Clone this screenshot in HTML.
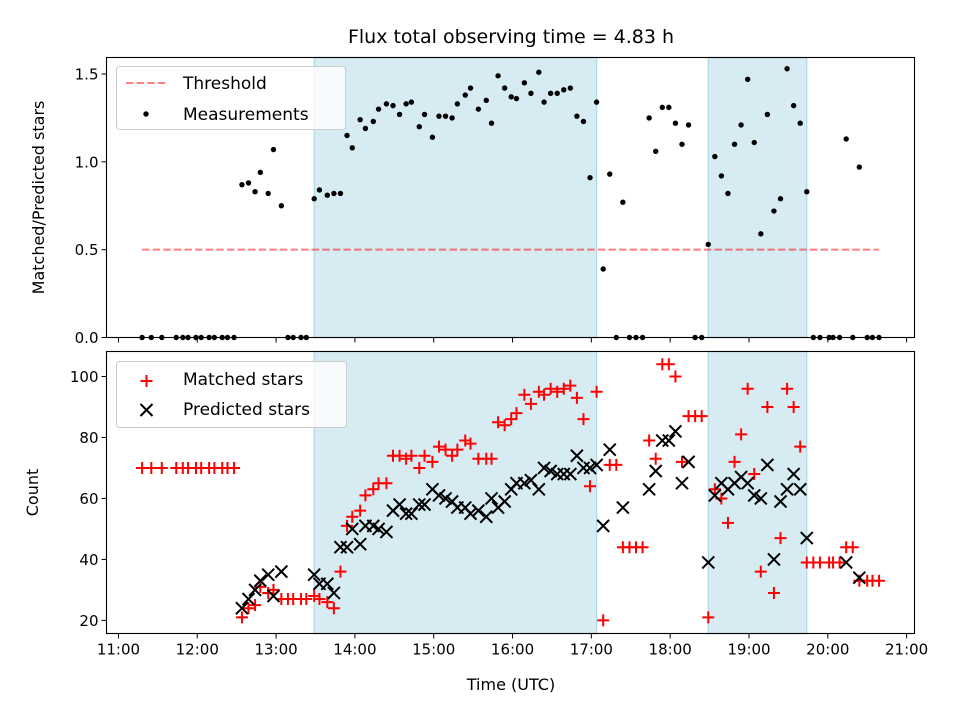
<!DOCTYPE html>
<html><head><meta charset="utf-8"><style>
html,body{margin:0;padding:0;background:#fff;}
svg{display:block;font-family:"DejaVu Sans","Liberation Sans",sans-serif;}
</style></head><body>
<svg id="chart" width="960" height="720" viewBox="0 0 960 720"></svg>
<script>
// minutes after 11:00 UTC
const times=[18,25,33,44,49,53,59,63,69,73,79,83,88,94,99,104,108,114,118,124,129,133,139,143,149,153,159,164,169,174,178,184,188,194,198,204,209,214,219,223,229,233,239,244,249,254,258,264,268,274,280,284,289,294,299,303,309,314,320,324,329,334,339,344,349,354,359,364,369,374,379,384,389,394,399,404,409,414,419,424,429,434,439,444,449,454,459,464,469,474,479,484,489,494,499,504,509,514,519,524,529,534,541,544,549,554,559,564,570,574,579];
const ratio=[0,0,0,0,0,0,0,0,0,0,0,0,0,.87,.88,.83,.94,.82,1.07,.75,0,0,0,0,.79,.84,.81,.82,.82,1.15,1.08,1.24,1.19,1.23,1.30,1.33,1.32,1.27,1.33,1.34,1.20,1.27,1.14,1.26,1.26,1.25,1.33,1.38,1.42,1.30,1.35,1.22,1.49,1.42,1.37,1.36,1.45,1.39,1.51,1.34,1.39,1.39,1.41,1.42,1.26,1.23,.91,1.34,.39,.93,0,.77,0,0,0,1.25,1.06,1.31,1.31,1.22,1.10,1.21,0,0,.53,1.03,.92,.82,1.10,1.21,1.47,1.11,.59,1.27,.72,.79,1.53,1.32,1.22,.83,0,0,0,0,0,1.13,0,.97,0,0,0];
const matched=[70,70,70,70,70,70,70,70,70,70,70,70,70,21,24,25,31,29,30,27,27,27,27,27,28,27,26,24,36,51,54,56,61,63,65,65,74,74,73,74,70,74,72,77,76,74,76,79,78,73,73,73,85,84,86,88,94,91,95,94,96,95,96,97,93,86,64,95,20,71,71,44,44,44,44,79,73,104,104,100,72,87,87,87,21,63,60,52,72,81,96,68,36,90,29,47,96,90,77,39,39,39,39,39,39,44,44,33,33,33,33];
const predicted=[null,null,null,null,null,null,null,null,null,null,null,null,null,24,27,30,33,35,28,36,null,null,null,null,35,32,32,29,44,44,50,45,51,51,50,49,56,58,55,55,58,58,63,61,60,59,57,57,55,56,54,60,57,59,63,65,65,66,63,70,69,68,68,68,74,70,70,71,51,76,null,57,null,null,null,63,69,79,79,82,65,72,null,null,39,61,65,63,65,67,65,61,60,71,40,59,63,68,63,47,null,null,null,null,null,39,null,34,null,null,null];
const threshold=0.5;
const spans=[[149,364],[449,524]];
const xTicks=["11:00","12:00","13:00","14:00","15:00","16:00","17:00","18:00","19:00","20:00","21:00"];
const topTicks=[0,0.5,1.0,1.5];
const botTicks=[20,40,60,80,100];

const NS="http://www.w3.org/2000/svg";
const svg=document.getElementById('chart');
function mk(tag,attrs,parent){const e=document.createElementNS(NS,tag);for(const k in attrs)e.setAttribute(k,attrs[k]);(parent||svg).appendChild(e);return e;}
const L=106.5,R=914.5;
const T1=57.5,B1=337.5,T2=351.5,B2=633.5;
const xMin=-9.1,xMax=606;
const X=m=>L+(m-xMin)/(xMax-xMin)*(R-L);
const Y1=v=>B1-(v-0)/(1.594)*(B1-T1);
const yb0=15.7,yb1=108.2;
const Y2=v=>B2-(v-yb0)/(yb1-yb0)*(B2-T2);

const title=mk('text',{x:511,y:43,'text-anchor':'middle','font-size':19,fill:'#000'});
title.textContent='Flux total observing time = 4.83 h';



function panel(T,B,Yf,ticks,fmt,name){
  const g=mk('g',{});
  
  
  spans.forEach(s=>{
    const r=mk('rect',{x:X(s[0]),y:T,width:X(s[1])-X(s[0]),height:B-T,fill:'#add8e6','fill-opacity':0.5,stroke:'#add8e6','stroke-width':1.2},g);
    
    
  });
  ticks.forEach(v=>{
    const y=Yf(v);
    mk('line',{x1:L-5,x2:L,y1:y,y2:y,stroke:'#000','stroke-width':1},g);
    const t=mk('text',{x:L-8,y:y+5.5,'text-anchor':'end','font-size':15,fill:'#000'},g);
    t.textContent=fmt(v);
    
    
  });
  xTicks.forEach((lab,i)=>{
    const x=X(i*60);
    mk('line',{x1:x,x2:x,y1:B,y2:B+5,stroke:'#000','stroke-width':1},g);
  });
  return g;
}
const gTop=panel(T1,B1,Y1,topTicks,v=>v.toFixed(1),'top-panel');
const gBot=panel(T2,B2,Y2,botTicks,v=>String(v),'bottom-panel');

const th=mk('line',{x1:X(times[0]),x2:X(times[times.length-1]),y1:Y1(threshold),y2:Y1(threshold),stroke:'#ff0000','stroke-opacity':0.5,'stroke-width':2,'stroke-dasharray':'7.4,3.2'},gTop);



times.forEach((t,i)=>{
  const c=mk('circle',{cx:X(t),cy:Y1(ratio[i]),r:2.7,fill:'#000'},gTop);
  
  
});
times.forEach((t,i)=>{
  const x=X(t),y=Y2(matched[i]),s=6;
  const p=mk('path',{d:`M${x-s},${y}H${x+s}M${x},${y-s}V${y+s}`,stroke:'#ff0000','stroke-width':2,fill:'none'},gBot);
  
  
});
times.forEach((t,i)=>{
  if(predicted[i]===null)return;
  const x=X(t),y=Y2(predicted[i]),s=6;
  const p=mk('path',{d:`M${x-s},${y-s}L${x+s},${y+s}M${x-s},${y+s}L${x+s},${y-s}`,stroke:'#000','stroke-width':2,fill:'none'},gBot);
  
  
});

[[T1,B1],[T2,B2]].forEach(([T,B])=>{
  const f=mk('rect',{x:L,y:T,width:R-L,height:B-T,fill:'none',stroke:'#000','stroke-width':1.1});
  
  
});
xTicks.forEach((lab,i)=>{
  const t=mk('text',{x:X(i*60),y:B2+21,'text-anchor':'middle','font-size':15,fill:'#000'});
  t.textContent=lab;
  
  
});
const xl=mk('text',{x:511,y:690,'text-anchor':'middle','font-size':16,fill:'#000'});
xl.textContent='Time (UTC)';


const yl1=mk('text',{x:0,y:0,'text-anchor':'middle','font-size':16,fill:'#000',transform:`translate(44,${(T1+B1)/2}) rotate(-90)`});
yl1.textContent='Matched/Predicted stars';


const yl2=mk('text',{x:0,y:0,'text-anchor':'middle','font-size':16,fill:'#000',transform:`translate(38,${(T2+B2)/2}) rotate(-90)`});
yl2.textContent='Count';



function legend(x,y,w,h,name){
  const g=mk('g',{});
  
  
  mk('rect',{x:x,y:y,width:w,height:h,rx:3,fill:'#fff','fill-opacity':0.8,stroke:'#ccc','stroke-width':1},g);
  return g;
}
const lg1=legend(116.5,66.5,229,63,'top-legend');
mk('line',{x1:126,x2:166,y1:83,y2:83,stroke:'#ff0000','stroke-opacity':0.5,'stroke-width':2,'stroke-dasharray':'7.4,3.2'},lg1);
let tx=mk('text',{x:183,y:89,'font-size':17,fill:'#000'},lg1);tx.textContent='Threshold';


mk('circle',{cx:146,cy:114,r:2.7,fill:'#000'},lg1);
tx=mk('text',{x:183,y:120,'font-size':17,fill:'#000'},lg1);tx.textContent='Measurements';



const lg2=legend(116.5,361.5,230,66,'bottom-legend');
mk('path',{d:'M140.5,381H152.5M146.5,375V387',stroke:'#ff0000','stroke-width':2,fill:'none'},lg2);
tx=mk('text',{x:183,y:385,'font-size':17,fill:'#000'},lg2);tx.textContent='Matched stars';


mk('path',{d:'M140.5,404L152.5,416M140.5,416L152.5,404',stroke:'#000','stroke-width':2,fill:'none'},lg2);
tx=mk('text',{x:183,y:415,'font-size':17,fill:'#000'},lg2);tx.textContent='Predicted stars';


</script>
</body></html>
